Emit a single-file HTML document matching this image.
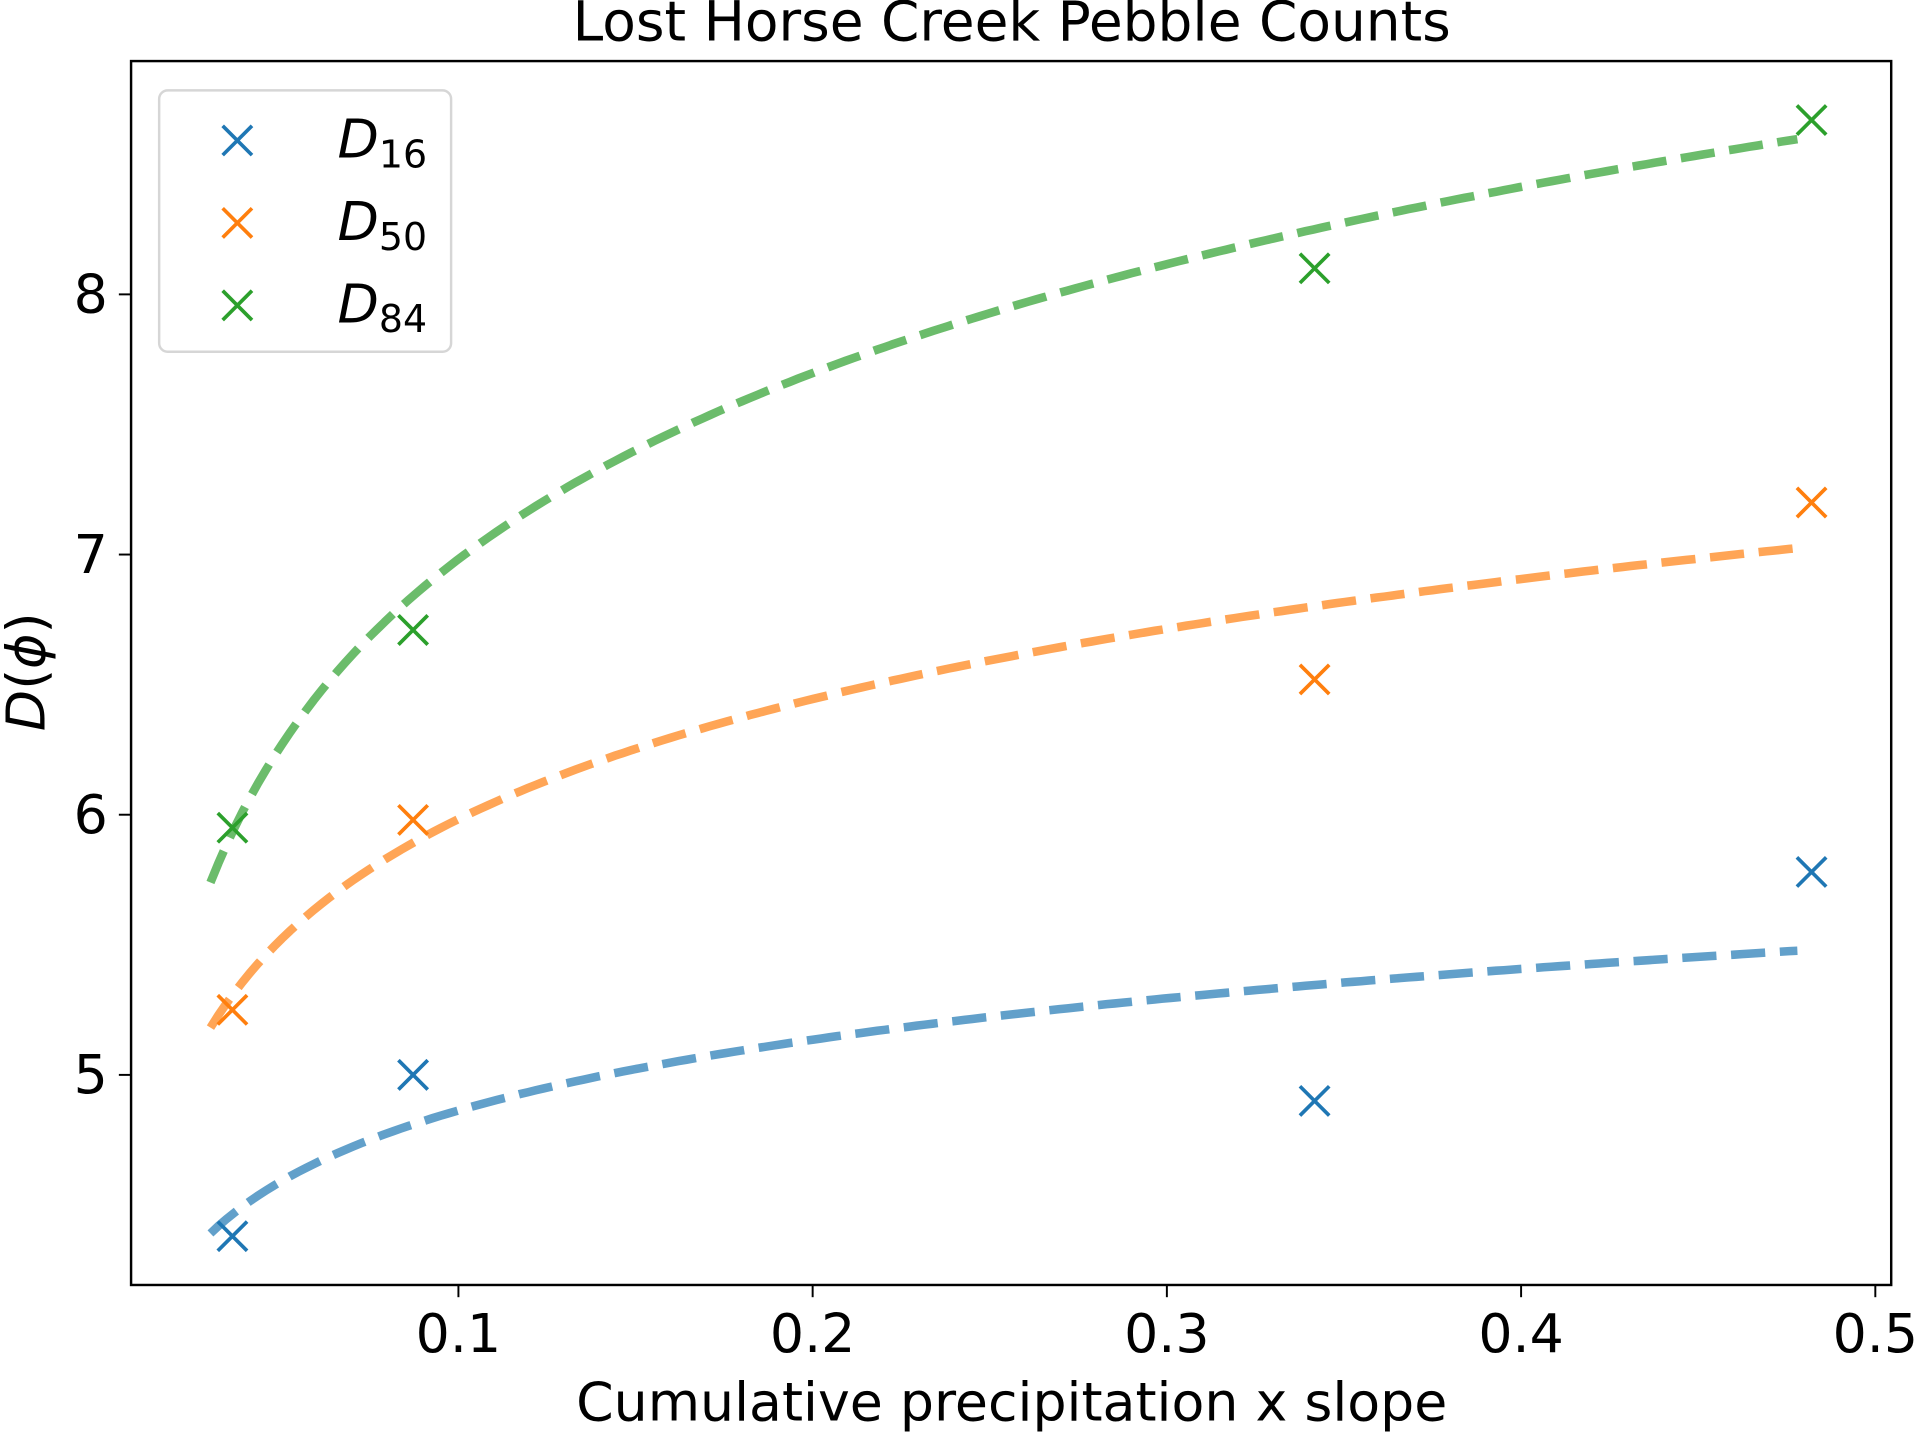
<!DOCTYPE html>
<html><head><meta charset="utf-8"><style>body{margin:0;background:#fff}svg{display:block}</style></head>
<body>
<svg id="chart" width="1916" height="1434" viewBox="0 0 1568 1174" xmlns="http://www.w3.org/2000/svg" font-family="'DejaVu Sans', 'Liberation Sans', sans-serif">
<rect width="1568" height="1174" fill="#fff"/>
<text x="828" y="33" font-size="45" text-anchor="middle">Lost Horse Creek Pebble Counts</text>
<g id="marks"></g>
<rect x="107" y="50" width="1441" height="1002" fill="none" stroke="#000" stroke-width="2"/>
<g id="ticks"></g>
<text x="828" y="1163" font-size="44" text-anchor="middle">Cumulative precipitation x slope</text>
<text transform="translate(36,550) rotate(-90)" font-size="44" text-anchor="middle"><tspan font-style="italic">D</tspan>(<tspan font-style="italic">ϕ</tspan>)</text>
<g>
<rect x="130" y="74" width="239" height="214" rx="7" fill="#fff" fill-opacity="0.8" stroke="#d6d6d6" stroke-width="2"/>
<g id="legend-items"></g>
</g>
</svg>
<script>
const xVals = [0.0362, 0.0872, 0.3417, 0.482];
const d16 = [4.38, 5.0, 4.9, 5.78];
const d50 = [5.25, 5.98, 6.52, 7.2];
const d84 = [5.95, 6.71, 8.1, 8.67];
const xTicks = [0.1, 0.2, 0.3, 0.4, 0.5];
const yTicks = [5, 6, 7, 8];
const fitRange = [0.03, 0.478];

const NS = 'http://www.w3.org/2000/svg';
const X = v => 85 + v * 2900;
const Y = v => 880 - (v - 5) * 213;
function mk(tag, attrs, parent) {
  const e = document.createElementNS(NS, tag);
  for (const k in attrs) e.setAttribute(k, attrs[k]);
  parent.appendChild(e); return e;
}
const ticks = document.getElementById('ticks');
xTicks.forEach(t => {
  const l = mk('line', {x1: X(t), x2: X(t), y1: 1052, y2: 1062, stroke: '#000', 'stroke-width': 1.6}, ticks);
  
  
  const tx = mk('text', {x: X(t), y: 1107, 'font-size': 44, 'text-anchor': 'middle'}, ticks);
  tx.textContent = t.toFixed(1);
  
  
});
yTicks.forEach(t => {
  const l = mk('line', {x1: 97, x2: 107, y1: Y(t), y2: Y(t), stroke: '#000', 'stroke-width': 1.6}, ticks);
  
  
  const tx = mk('text', {x: 88, y: Y(t) + 15, 'font-size': 44, 'text-anchor': 'end'}, ticks);
  tx.textContent = String(t);
  
  
});
const marks = document.getElementById('marks');
const series = [[d16, '#1f77b4', 'd16', 0.01], [d50, '#ff7f0e', 'd50', 0.02], [d84, '#2ca02c', 'd84', 0.05]];
function cross(cx, cy, color, parent) {
  const s = 12;
  return mk('path', {d: `M${cx-s},${cy-s}L${cx+s},${cy+s}M${cx-s},${cy+s}L${cx+s},${cy-s}`, stroke: color, 'stroke-width': 3, fill: 'none'}, parent);
}
series.forEach(([ys, color, name, adj]) => {
  const lx = xVals.map(Math.log);
  const mx = lx.reduce((a, b) => a + b) / lx.length, my = ys.reduce((a, b) => a + b) / ys.length;
  let sxy = 0, sxx = 0;
  lx.forEach((v, i) => { sxy += (v - mx) * (ys[i] - my); sxx += (v - mx) ** 2; });
  const b = sxy / sxx, a = my - b * mx + adj;
  let d = '';
  for (let i = 0; i <= 200; i++) {
    const xv = fitRange[0] + (fitRange[1] - fitRange[0]) * i / 200;
    d += (i ? 'L' : 'M') + X(xv).toFixed(1) + ',' + Y(a + b * Math.log(xv)).toFixed(1);
  }
  const p = mk('path', {d, stroke: color, 'stroke-width': 7, fill: 'none', 'stroke-opacity': 0.7, 'stroke-dasharray': '28 12'}, marks);
  
  
  ys.forEach((v, i) => {
    const c = cross(X(xVals[i]), Y(v), color, marks);
    
    
  });
});
const leg = document.getElementById('legend-items');
const labels = [['16', '#1f77b4'], ['50', '#ff7f0e'], ['84', '#2ca02c']];
labels.forEach(([sub, color], i) => {
  const y = 115 + i * 67.5;
  const c = cross(194, y, color, leg);
  
  
  const t = mk('text', {x: 276, y: y + 14, 'font-size': 44}, leg);
  t.innerHTML = '<tspan font-style="italic">D</tspan><tspan font-size="31" dy="8">' + sub + '</tspan>';
  
  
});
</script>
</body></html>
